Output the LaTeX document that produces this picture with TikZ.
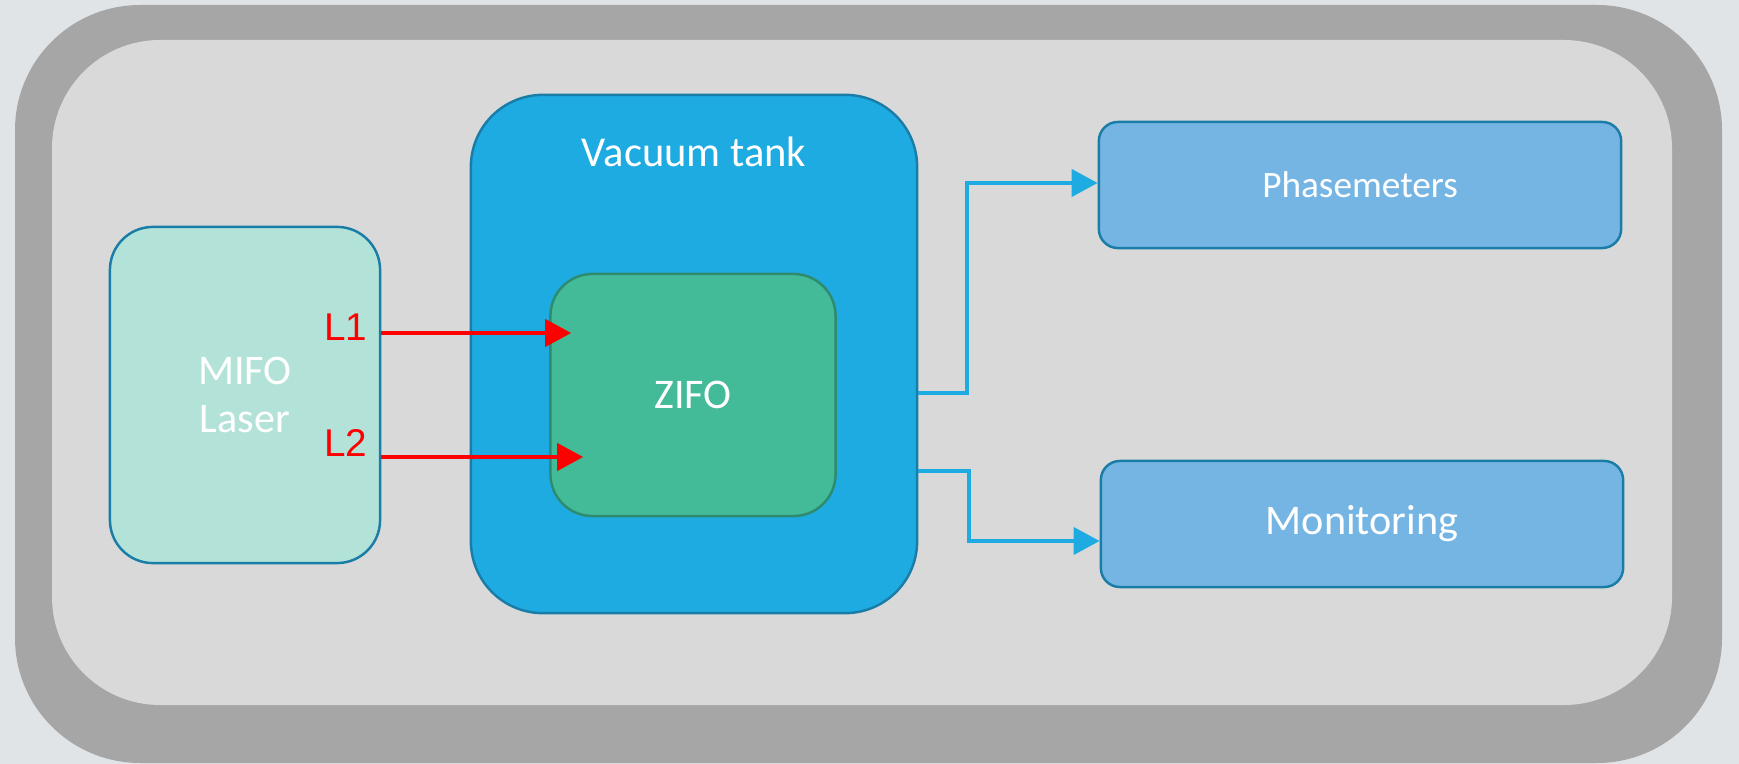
\documentclass[tikz,border=0pt]{standalone}
\usepackage{fontspec}
\setmainfont{Carlito}
\newfontfamily\arialfont{Liberation Sans}
\usepackage{tikz}
\usetikzlibrary{calc,positioning,arrows.meta}
\definecolor{bggrey}{HTML}{E0E4E7}
\definecolor{frame}{HTML}{A6A6A6}
\definecolor{panel}{HTML}{D9D9D9}
\definecolor{edgeblue}{HTML}{1A7DA8}
\definecolor{mint}{HTML}{B3E3D8}
\definecolor{tankblue}{HTML}{1EABE2}
\definecolor{zifogreen}{HTML}{43BA98}
\definecolor{zifoedge}{HTML}{2E8B6E}
\definecolor{boxblue}{HTML}{75B5E3}
\tikzset{
    laserbox/.style={
    rectangle,rounded corners=0.43cm,draw=edgeblue,line width=0.7pt,fill=mint,text=white,
    minimum width=2.70cm,minimum height=3.36cm,align=center,font=\fontsize{12}{13.7}\selectfont
    },
    tankbox/.style={
    rectangle,rounded corners=0.72cm,draw=edgeblue,line width=0.7pt,fill=tankblue,
    minimum width=4.46cm,minimum height=5.18cm
    },
    zifobox/.style={
    rectangle,rounded corners=0.42cm,draw=zifoedge,line width=0.7pt,fill=zifogreen,text=white,
    minimum width=2.85cm,minimum height=2.42cm,font=\fontsize{12}{14}\selectfont
    },
    outbox/.style={
    rectangle,rounded corners=0.19cm,draw=edgeblue,line width=0.7pt,fill=boxblue,text=white,
    minimum width=5.22cm,minimum height=1.26cm,font=\fontsize{12}{14}\selectfont
    },
  wtext/.style={text=white,font=\fontsize{12.1}{14}\selectfont},
  lbl/.style={text=red,font=\arialfont\fontsize{11}{12}\selectfont,inner sep=0pt},
  laser/.style={draw=red,line width=1.15pt,-{Triangle[length=7.4pt,width=7.7pt]}},
  sig/.style={draw=tankblue,line width=1.15pt,-{Triangle[length=7.4pt,width=7.7pt]}}
}
\begin{document}
\begin{tikzpicture}[x=0.01cm,y=-0.01cm]
    \useasboundingbox (0,0) rectangle (1739,764);
    \fill[bggrey] (0,0) rectangle (1739,764);
    \fill[frame,rounded corners=1.25cm] (15,5) rectangle (1722,763);
    \fill[panel,rounded corners=1.08cm] (52,40) rectangle (1672,705);

    \node[laserbox] (mifo) at (245,395) {MIFO\\ Laser};
    \node[tankbox] (tank) at (694,354) {};
    \node[wtext] (tanktxt) at (694,152) {Vacuum tank};
    \node[zifobox] (zifo) at (693,395) {ZIFO};
    \node[outbox,font=\fontsize{10.6}{12}\selectfont] (phase) at (1360,185) {Phasemeters};
    \node[outbox] (mon) at (1362,524) {Monitoring};

    \node[lbl] (l1) at (346,327) {L1};
    \node[lbl] (l2) at (346,443) {L2};

    \path[laser] ($(mifo.east)+(0,-62)$) -- ($(zifo.west)+(22,-62)$);
    \path[laser] ($(mifo.east)+(0,62)$) -- ($(zifo.west)+(34,62)$);

    \path[sig] ($(tank.east)+(0,39)$) -- ++(49,0) |- ($(phase.west)+(0,-2)$);
    \path[sig] ($(tank.east)+(0,117)$) -- ++(51,0) |- ($(mon.west)+(0,17)$);
  \end{tikzpicture}
\end{document}
